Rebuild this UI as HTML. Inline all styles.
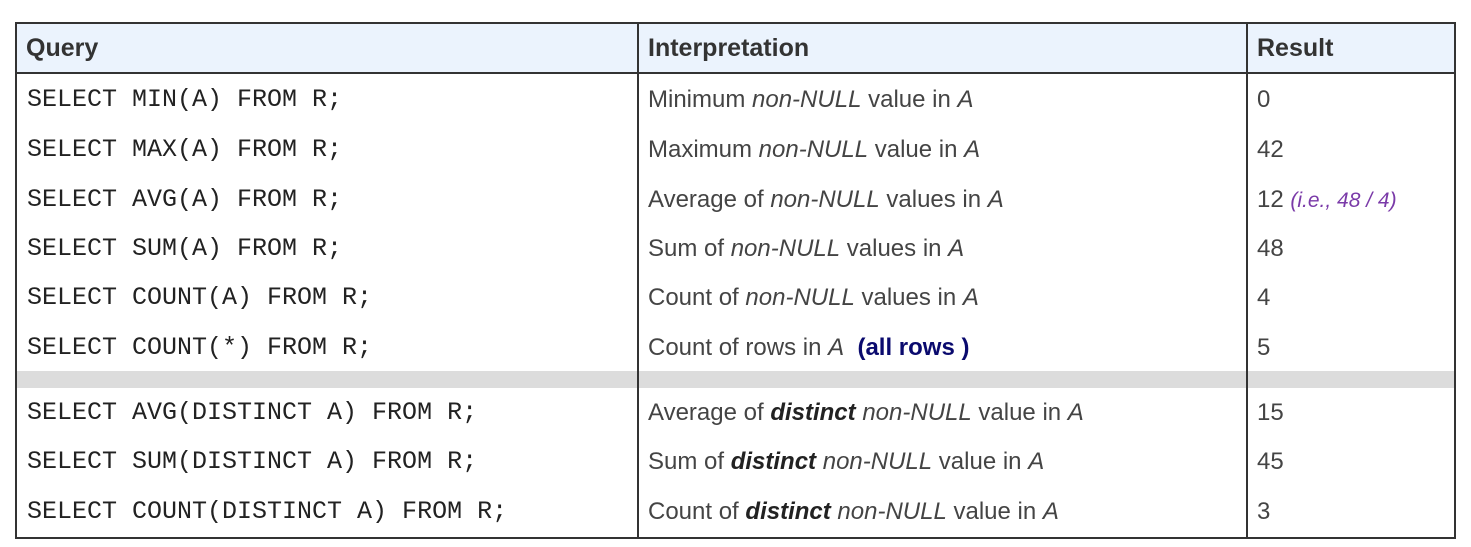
<!DOCTYPE html>
<html><head><style>
body{margin:0;background:#fff;width:1471px;height:547px;position:relative;overflow:hidden;font-family:"Liberation Sans",sans-serif;color:#333}
.box{position:absolute;left:15px;top:22px;width:1437px;height:513px;border:2px solid #333}
.hdr{position:absolute;left:17px;top:24px;width:1437px;height:48px;background:#ebf3fd;border-bottom:2px solid #333}
.vl{position:absolute;top:24px;width:2px;height:513px;background:#333}
.gray{position:absolute;left:17px;top:371px;width:1437px;height:17px;background:#dcdcdc}
.t{position:absolute;white-space:nowrap;line-height:1}
.h{font-weight:bold;font-size:25px;color:#333}
.m{font-family:"Liberation Mono",monospace;font-size:25px;color:#222;left:27px}
.i{font-size:24px;left:648px;color:#444}
.r{font-size:24px;left:1257px;color:#444}
em{font-style:italic}
b{font-weight:bold;font-style:italic;color:#222}
.p{color:#7a3aa8;font-style:italic}
.hand{color:#0a0a6e;font-weight:bold;font-size:24px;font-family:"Liberation Sans",sans-serif}
</style></head><body>
<div class="hdr"></div>
<div class="gray"></div>
<div class="box"></div>
<div class="vl" style="left:637px"></div>
<div class="vl" style="left:1246px"></div>
<div class="t h" style="left:26px;top:36px">Query</div>
<div class="t h" style="left:648px;top:36px">Interpretation</div>
<div class="t h" style="left:1257px;top:36px">Result</div>

<div class="t m" style="top:87px">SELECT MIN(A) FROM R;</div>
<div class="t m" style="top:137px">SELECT MAX(A) FROM R;</div>
<div class="t m" style="top:187px">SELECT AVG(A) FROM R;</div>
<div class="t m" style="top:236px">SELECT SUM(A) FROM R;</div>
<div class="t m" style="top:285px">SELECT COUNT(A) FROM R;</div>
<div class="t m" style="top:335px">SELECT COUNT(*) FROM R;</div>
<div class="t m" style="top:400px">SELECT AVG(DISTINCT A) FROM R;</div>
<div class="t m" style="top:449px">SELECT SUM(DISTINCT A) FROM R;</div>
<div class="t m" style="top:499px">SELECT COUNT(DISTINCT A) FROM R;</div>

<div class="t i" style="top:88px">Minimum <em>non-NULL</em> value in <em>A</em></div>
<div class="t i" style="top:138px">Maximum <em>non-NULL</em> value in <em>A</em></div>
<div class="t i" style="top:188px">Average of <em>non-NULL</em> values in <em>A</em></div>
<div class="t i" style="top:237px">Sum of <em>non-NULL</em> values in <em>A</em></div>
<div class="t i" style="top:286px">Count of <em>non-NULL</em> values in <em>A</em></div>
<div class="t i" style="top:336px">Count of rows in <em>A</em> &nbsp;<span class="hand">(all rows )</span></div>
<div class="t i" style="top:401px">Average of <b>distinct</b> <em>non-NULL</em> value in <em>A</em></div>
<div class="t i" style="top:450px">Sum of <b>distinct</b> <em>non-NULL</em> value in <em>A</em></div>
<div class="t i" style="top:500px">Count of <b>distinct</b> <em>non-NULL</em> value in <em>A</em></div>

<div class="t r" style="top:88px">0</div>
<div class="t r" style="top:138px">42</div>
<div class="t r" style="top:188px">12 <span class="p" style="font-size:21px">(i.e., 48 / 4)</span></div>
<div class="t r" style="top:237px">48</div>
<div class="t r" style="top:286px">4</div>
<div class="t r" style="top:336px">5</div>
<div class="t r" style="top:401px">15</div>
<div class="t r" style="top:450px">45</div>
<div class="t r" style="top:500px">3</div>
</body></html>
